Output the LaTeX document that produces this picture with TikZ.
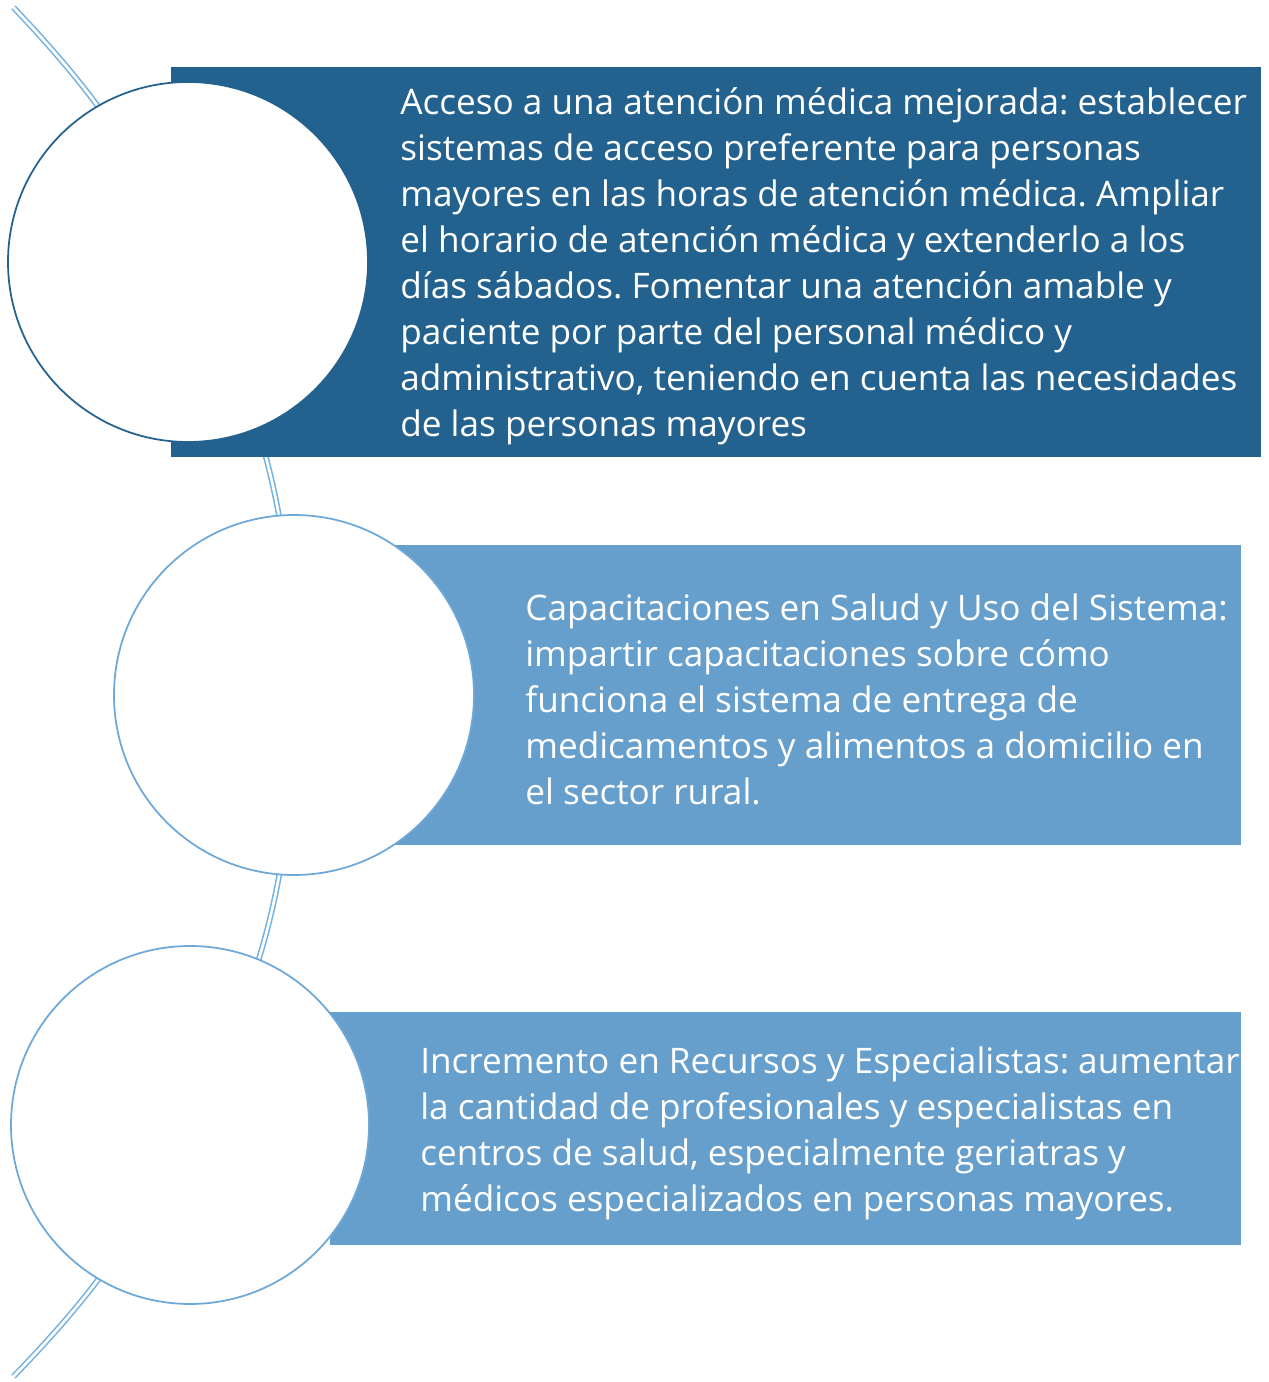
\documentclass[tikz,border=0pt]{standalone}
\usepackage{fontspec}
\setmainfont{Open Sans}
\frenchspacing
\definecolor{darkpanel}{RGB}{35,98,142}
\definecolor{lightpanel}{RGB}{103,159,204}
\definecolor{spineblue}{RGB}{118,178,224}
\definecolor{ringblue}{RGB}{110,168,216}
\begin{document}
\begin{tikzpicture}[
    spine/.style={draw=spineblue, double=white, double distance=1.5pt, line width=0.9pt},
    bubble/.style={circle, fill=white, line width=1pt, minimum size=7.2cm, inner sep=0pt},
    note/.style={text=white, align=left, anchor=north west, inner sep=0pt, font=\fontsize{20}{26.2}\selectfont}]
            \useasboundingbox (0,0) rectangle (25.38,27.64);
            \coordinate (spinetop) at (0.27,27.49);
            \coordinate (spinebot) at (0.27,0.11);
            \coordinate (m1) at (3.76,22.4);
            \coordinate (m2) at (5.88,13.74);
            \coordinate (m3) at (3.8,5.14);
            \draw[spine] (spinetop) to[bend left=9] (m1);
            \draw[spine] (m1) to[bend left=13] (m2);
            \draw[spine] (m2) to[bend left=13] (m3);
            \draw[spine] (m3) to[bend left=9] (spinebot);
            \fill[darkpanel] (3.42,18.5) rectangle (25.22,26.3);
            \fill[lightpanel] (7.9,10.74) rectangle (24.82,16.74);
            \fill[lightpanel] (6.6,2.74) rectangle (24.82,7.4);
            \node[bubble, draw=darkpanel] (c1) at (m1) {};
            \node[bubble, draw=ringblue] (c2) at (m2) {};
            \node[bubble, draw=ringblue, minimum size=7.16cm] (c3) at (m3) {};
            \node[note] (t1) at (8,25.9) {Acceso a una atención médica mejorada: establecer\\
                sistemas de acceso preferente para personas\\
                mayores en las horas de atención médica. Ampliar\\
                el horario de atención médica y extenderlo a los\\
                días sábados. Fomentar una atención amable y\\
                paciente por parte del personal médico y\\
                administrativo, teniendo en cuenta las necesidades\\
                de las personas mayores};
            \node[note] (t2) at (10.5,15.78) {Capacitaciones en Salud y Uso del Sistema:\\
                impartir capacitaciones sobre cómo\\
                funciona el sistema de entrega de\\
                medicamentos y alimentos a domicilio en\\
                el sector rural.};
            \node[note] (t3) at (8.4,6.72) {Incremento en Recursos y Especialistas: aumentar\\
                la cantidad de profesionales y especialistas en\\
                centros de salud, especialmente geriatras y\\
                médicos especializados en personas mayores.};
        \end{tikzpicture}
\end{document}
